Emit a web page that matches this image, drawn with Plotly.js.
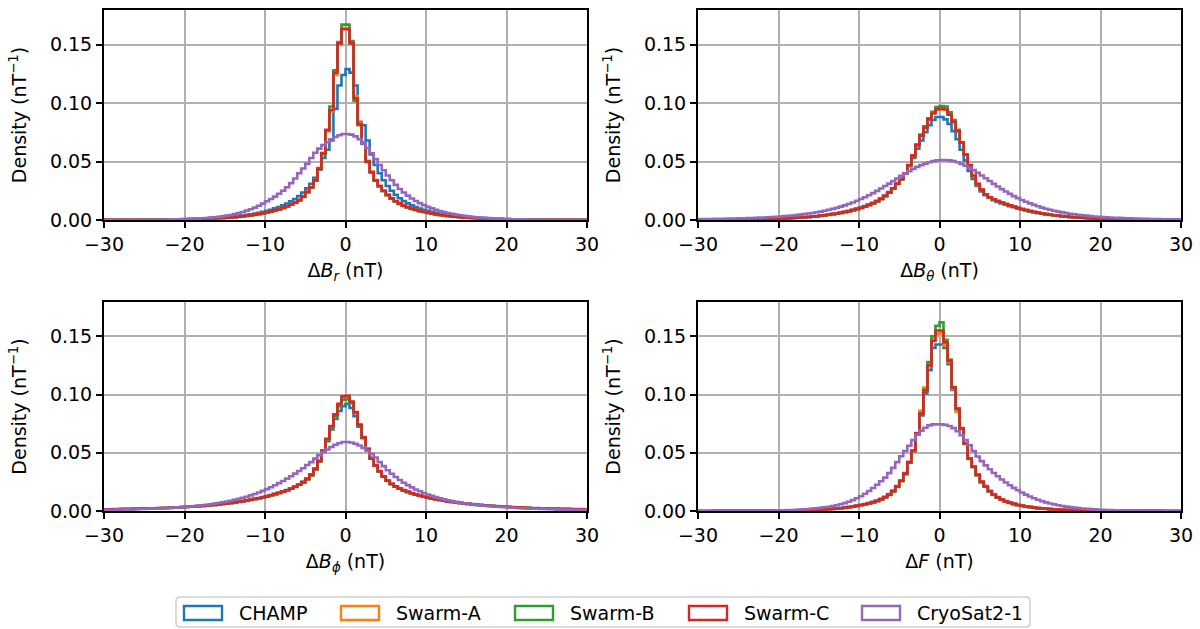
<!DOCTYPE html>
<html><head><meta charset="utf-8">
<script src="https://cdn.plot.ly/plotly-3.0.1.min.js"></script>
<style>html,body{margin:0;padding:0;background:#fff}#chart{width:1200px;height:629px}</style>
</head><body><div id="chart"></div>
<script>
const seriesNames = ['CHAMP','Swarm-A','Swarm-B','Swarm-C','CryoSat2-1'];
const seriesColors = ['#1f77b4','#ff7f0e','#2ca02c','#d62728','#9467bd'];
const binStart = -30, binWidth = 0.5, binCount = 120;

// ---- ΔBr ----
const br_champ = [
.0001,.0001,.0001,.0002,.0002,.0002,.0002,.0002,.0003,.0003,
.0003,.0003,.0004,.0004,.0005,.0005,.0006,.0006,.0007,.0008,
.0009,.0010,.0011,.0012,.0013,.0015,.0016,.0018,.0020,.0023,
.0025,.0028,.0031,.0035,.0039,.0044,.0049,.0055,.0062,.0070,
.0078,.0088,.0099,.0111,.0125,.0141,.0159,.0180,.0205,.0235,
.0270,.0310,.0360,.0430,.0530,.0600,.0680,.0950,.1150,.1240,
.1290,.1260,.1150,.0840,.0810,.0680,.0560,.0470,.0400,.0340,
.0290,.0250,.0215,.0186,.0162,.0142,.0125,.0110,.0098,.0087,
.0078,.0069,.0062,.0055,.0049,.0044,.0039,.0035,.0031,.0028,
.0025,.0022,.0020,.0018,.0016,.0014,.0013,.0011,.0010,.0009,
.0008,.0007,.0007,.0006,.0005,.0005,.0004,.0004,.0004,.0003,
.0003,.0003,.0002,.0002,.0002,.0002,.0002,.0001,.0001,.0001];
const br_swarmA = [
.0001,.0001,.0001,.0001,.0001,.0001,.0002,.0002,.0002,.0002,
.0002,.0003,.0003,.0003,.0004,.0004,.0004,.0005,.0005,.0006,
.0007,.0007,.0008,.0009,.0010,.0011,.0013,.0014,.0016,.0018,
.0020,.0022,.0025,.0028,.0032,.0036,.0041,.0046,.0052,.0059,
.0066,.0074,.0083,.0093,.0104,.0117,.0132,.0150,.0170,.0200,
.0240,.0282,.0342,.0445,.0575,.0760,.0930,.1240,.1500,.1640,
.1640,.1520,.1060,.0830,.0665,.0505,.0412,.0342,.0291,.0251,
.0215,.0185,.0160,.0140,.0123,.0109,.0097,.0087,.0078,.0070,
.0062,.0055,.0049,.0044,.0039,.0035,.0031,.0028,.0025,.0022,
.0020,.0018,.0016,.0014,.0013,.0011,.0010,.0009,.0008,.0007,
.0007,.0006,.0005,.0005,.0004,.0004,.0004,.0003,.0003,.0003,
.0002,.0002,.0002,.0002,.0002,.0001,.0001,.0001,.0001,.0001];
const br_swarmB = [
.0001,.0001,.0001,.0001,.0001,.0001,.0001,.0002,.0002,.0002,
.0002,.0002,.0003,.0003,.0003,.0004,.0004,.0005,.0005,.0006,
.0006,.0007,.0008,.0009,.0010,.0011,.0012,.0014,.0015,.0017,
.0019,.0021,.0024,.0027,.0031,.0035,.0039,.0044,.0050,.0057,
.0064,.0072,.0081,.0091,.0102,.0115,.0130,.0147,.0168,.0196,
.0236,.0276,.0336,.0436,.0565,.0765,.0970,.1280,.1520,.1670,
.1670,.1530,.1020,.0810,.0650,.0495,.0405,.0336,.0286,.0246,
.0212,.0182,.0158,.0138,.0121,.0107,.0095,.0085,.0076,.0068,
.0061,.0054,.0048,.0043,.0038,.0034,.0030,.0027,.0024,.0021,
.0019,.0017,.0015,.0014,.0012,.0011,.0010,.0009,.0008,.0007,
.0006,.0006,.0005,.0005,.0004,.0004,.0003,.0003,.0003,.0003,
.0002,.0002,.0002,.0002,.0002,.0001,.0001,.0001,.0001,.0001];
const br_swarmC = [
.0001,.0001,.0001,.0001,.0001,.0001,.0002,.0002,.0002,.0002,
.0002,.0003,.0003,.0003,.0004,.0004,.0004,.0005,.0005,.0006,
.0007,.0007,.0008,.0009,.0010,.0011,.0013,.0014,.0016,.0018,
.0020,.0022,.0025,.0028,.0032,.0036,.0041,.0046,.0052,.0059,
.0066,.0074,.0083,.0093,.0104,.0117,.0132,.0150,.0170,.0200,
.0240,.0280,.0340,.0440,.0570,.0770,.0940,.1260,.1510,.1630,
.1630,.1510,.1040,.0820,.0660,.0500,.0410,.0340,.0290,.0250,
.0215,.0185,.0160,.0140,.0123,.0109,.0097,.0087,.0078,.0070,
.0062,.0055,.0049,.0044,.0039,.0035,.0031,.0028,.0025,.0022,
.0020,.0018,.0016,.0014,.0013,.0011,.0010,.0009,.0008,.0007,
.0007,.0006,.0005,.0005,.0004,.0004,.0004,.0003,.0003,.0003,
.0002,.0002,.0002,.0002,.0002,.0001,.0001,.0001,.0001,.0001];
const br_cryosat = [
.0001,.0001,.0001,.0001,.0001,.0001,.0002,.0002,.0002,.0002,
.0002,.0002,.0003,.0003,.0004,.0004,.0005,.0005,.0006,.0007,
.0008,.0010,.0011,.0013,.0015,.0017,.0020,.0023,.0027,.0032,
.0037,.0043,.0050,.0059,.0069,.0080,.0092,.0106,.0122,.0140,
.0160,.0180,.0200,.0225,.0250,.0280,.0315,.0355,.0400,.0440,
.0480,.0530,.0575,.0610,.0640,.0665,.0690,.0710,.0725,.0735,
.0735,.0730,.0715,.0690,.0655,.0615,.0570,.0520,.0470,.0425,
.0380,.0340,.0300,.0265,.0235,.0208,.0184,.0163,.0144,.0127,
.0112,.0099,.0087,.0077,.0068,.0060,.0053,.0046,.0041,.0036,
.0031,.0027,.0024,.0021,.0018,.0016,.0014,.0012,.0011,.0009,
.0008,.0007,.0006,.0006,.0005,.0004,.0004,.0003,.0003,.0003,
.0002,.0002,.0002,.0002,.0001,.0001,.0001,.0001,.0001,.0001];

// ---- ΔBθ ----
const bt_champ = [
.0002,.0002,.0002,.0003,.0003,.0003,.0003,.0004,.0004,.0004,
.0005,.0005,.0006,.0006,.0007,.0008,.0009,.0009,.0010,.0011,
.0013,.0014,.0016,.0018,.0020,.0022,.0024,.0027,.0030,.0034,
.0038,.0042,.0047,.0052,.0058,.0064,.0071,.0079,.0088,.0097,
.0108,.0120,.0133,.0148,.0165,.0185,.0210,.0238,.0272,.0310,
.0350,.0400,.0460,.0530,.0610,.0680,.0750,.0810,.0855,.0880,
.0880,.0860,.0820,.0760,.0690,.0600,.0510,.0420,.0350,.0290,
.0245,.0212,.0188,.0170,.0155,.0142,.0130,.0119,.0109,.0099,
.0090,.0082,.0074,.0067,.0061,.0055,.0050,.0045,.0041,.0037,
.0033,.0030,.0027,.0024,.0022,.0020,.0018,.0016,.0014,.0013,
.0012,.0010,.0009,.0008,.0008,.0007,.0006,.0006,.0005,.0005,
.0004,.0004,.0003,.0003,.0003,.0003,.0002,.0002,.0002,.0002];
const bt_swarmA = [
.0002,.0002,.0002,.0002,.0002,.0003,.0003,.0003,.0004,.0004,
.0004,.0005,.0005,.0006,.0007,.0007,.0008,.0009,.0010,.0011,
.0012,.0014,.0015,.0017,.0019,.0021,.0023,.0026,.0029,.0032,
.0036,.0040,.0045,.0050,.0055,.0061,.0068,.0075,.0084,.0093,
.0103,.0115,.0128,.0143,.0160,.0180,.0205,.0235,.0270,.0310,
.0348,.0398,.0468,.0552,.0642,.0725,.0795,.0865,.0918,.0955,
.0960,.0955,.0910,.0848,.0765,.0662,.0560,.0468,.0378,.0308,
.0260,.0220,.0195,.0178,.0163,.0150,.0137,.0125,.0114,.0104,
.0094,.0085,.0077,.0069,.0062,.0056,.0050,.0045,.0040,.0036,
.0032,.0029,.0026,.0023,.0021,.0019,.0017,.0015,.0013,.0012,
.0011,.0010,.0009,.0008,.0007,.0006,.0006,.0005,.0005,.0004,
.0004,.0003,.0003,.0003,.0003,.0002,.0002,.0002,.0002,.0002];
const bt_swarmB = [
.0002,.0002,.0002,.0002,.0002,.0003,.0003,.0003,.0003,.0004,
.0004,.0005,.0005,.0006,.0006,.0007,.0008,.0009,.0010,.0011,
.0012,.0013,.0015,.0017,.0019,.0021,.0023,.0026,.0028,.0031,
.0035,.0039,.0044,.0049,.0054,.0060,.0067,.0074,.0083,.0092,
.0102,.0114,.0127,.0142,.0159,.0179,.0204,.0234,.0268,.0308,
.0345,.0395,.0465,.0550,.0645,.0730,.0800,.0870,.0925,.0965,
.0975,.0970,.0920,.0855,.0770,.0665,.0560,.0465,.0375,.0305,
.0258,.0218,.0193,.0176,.0161,.0148,.0136,.0124,.0113,.0103,
.0093,.0084,.0076,.0068,.0061,.0055,.0049,.0044,.0040,.0036,
.0032,.0029,.0026,.0023,.0021,.0019,.0017,.0015,.0013,.0012,
.0011,.0010,.0009,.0008,.0007,.0006,.0006,.0005,.0005,.0004,
.0004,.0003,.0003,.0003,.0003,.0002,.0002,.0002,.0002,.0002];
const bt_swarmC = [
.0002,.0002,.0002,.0002,.0002,.0003,.0003,.0003,.0004,.0004,
.0004,.0005,.0005,.0006,.0007,.0007,.0008,.0009,.0010,.0011,
.0012,.0014,.0015,.0017,.0019,.0021,.0023,.0026,.0029,.0032,
.0036,.0040,.0045,.0050,.0055,.0061,.0068,.0075,.0084,.0093,
.0103,.0115,.0128,.0143,.0160,.0180,.0205,.0235,.0270,.0310,
.0350,.0400,.0470,.0550,.0640,.0720,.0790,.0860,.0910,.0945,
.0950,.0945,.0900,.0840,.0760,.0660,.0560,.0470,.0380,.0310,
.0260,.0220,.0195,.0178,.0163,.0150,.0137,.0125,.0114,.0104,
.0094,.0085,.0077,.0069,.0062,.0056,.0050,.0045,.0040,.0036,
.0032,.0029,.0026,.0023,.0021,.0019,.0017,.0015,.0013,.0012,
.0011,.0010,.0009,.0008,.0007,.0006,.0006,.0005,.0005,.0004,
.0004,.0003,.0003,.0003,.0003,.0002,.0002,.0002,.0002,.0002];
const bt_cryosat = [
.0008,.0008,.0009,.0009,.0010,.0010,.0011,.0012,.0012,.0013,
.0014,.0015,.0016,.0017,.0019,.0020,.0022,.0024,.0026,.0028,
.0030,.0033,.0036,.0039,.0042,.0046,.0050,.0055,.0060,.0066,
.0072,.0079,.0087,.0095,.0104,.0114,.0125,.0137,.0150,.0164,
.0179,.0195,.0212,.0230,.0249,.0269,.0290,.0311,.0333,.0355,
.0377,.0398,.0418,.0437,.0454,.0469,.0482,.0494,.0503,.0510,
.0513,.0513,.0510,.0503,.0493,.0480,.0464,.0446,.0426,.0404,
.0381,.0357,.0333,.0309,.0286,.0264,.0243,.0223,.0204,.0187,
.0171,.0156,.0142,.0129,.0117,.0106,.0096,.0087,.0079,.0072,
.0065,.0059,.0054,.0049,.0044,.0040,.0037,.0033,.0030,.0028,
.0025,.0023,.0021,.0019,.0018,.0016,.0015,.0014,.0013,.0012,
.0011,.0010,.0009,.0009,.0008,.0007,.0007,.0006,.0006,.0005];

// ---- ΔBϕ ----
const bp_champ = [
.0015,.0015,.0016,.0016,.0017,.0018,.0018,.0019,.0020,.0021,
.0022,.0023,.0024,.0025,.0026,.0027,.0029,.0030,.0032,.0034,
.0036,.0038,.0040,.0043,.0046,.0049,.0052,.0055,.0059,.0063,
.0067,.0071,.0076,.0081,.0086,.0092,.0098,.0105,.0112,.0120,
.0128,.0137,.0147,.0157,.0168,.0180,.0194,.0210,.0228,.0250,
.0278,.0315,.0365,.0430,.0510,.0600,.0700,.0790,.0860,.0900,
.0920,.0885,.0815,.0725,.0625,.0535,.0455,.0392,.0342,.0298,
.0262,.0234,.0212,.0194,.0179,.0166,.0154,.0143,.0134,.0125,
.0117,.0110,.0103,.0097,.0091,.0085,.0080,.0075,.0071,.0067,
.0063,.0059,.0056,.0053,.0050,.0047,.0045,.0042,.0040,.0038,
.0036,.0034,.0032,.0031,.0029,.0028,.0026,.0025,.0024,.0023,
.0022,.0021,.0020,.0019,.0018,.0018,.0017,.0016,.0016,.0015];
const bp_swarmA = [
.0014,.0014,.0015,.0015,.0016,.0017,.0017,.0018,.0019,.0020,
.0021,.0022,.0023,.0024,.0025,.0026,.0028,.0029,.0031,.0033,
.0035,.0037,.0039,.0041,.0044,.0047,.0050,.0053,.0057,.0061,
.0065,.0069,.0074,.0079,.0084,.0090,.0096,.0103,.0110,.0118,
.0126,.0135,.0145,.0155,.0166,.0178,.0192,.0208,.0226,.0248,
.0273,.0308,.0358,.0428,.0518,.0616,.0725,.0822,.0910,.0970,
.0975,.0935,.0848,.0740,.0632,.0532,.0452,.0391,.0341,.0296,
.0260,.0232,.0210,.0192,.0177,.0164,.0152,.0141,.0132,.0123,
.0115,.0108,.0101,.0095,.0089,.0083,.0078,.0073,.0069,.0065,
.0061,.0057,.0054,.0051,.0048,.0045,.0043,.0040,.0038,.0036,
.0034,.0032,.0030,.0029,.0027,.0026,.0024,.0023,.0022,.0021,
.0020,.0019,.0018,.0017,.0016,.0016,.0015,.0014,.0014,.0013];
const bp_swarmB = [
.0014,.0014,.0014,.0015,.0016,.0016,.0017,.0018,.0019,.0020,
.0020,.0021,.0022,.0023,.0025,.0026,.0027,.0029,.0031,.0032,
.0034,.0036,.0038,.0041,.0043,.0046,.0049,.0052,.0056,.0060,
.0064,.0068,.0073,.0078,.0083,.0089,.0095,.0102,.0109,.0117,
.0125,.0134,.0144,.0154,.0165,.0177,.0191,.0207,.0225,.0246,
.0272,.0306,.0356,.0425,.0515,.0612,.0720,.0815,.0900,.0955,
.0960,.0925,.0845,.0740,.0635,.0535,.0455,.0392,.0342,.0297,
.0259,.0231,.0209,.0191,.0176,.0163,.0151,.0140,.0131,.0122,
.0114,.0107,.0100,.0094,.0088,.0082,.0077,.0072,.0068,.0064,
.0060,.0056,.0053,.0050,.0047,.0045,.0042,.0040,.0038,.0036,
.0034,.0032,.0030,.0028,.0027,.0025,.0024,.0023,.0022,.0021,
.0020,.0019,.0018,.0017,.0016,.0015,.0015,.0014,.0013,.0013];
const bp_swarmC = [
.0014,.0014,.0015,.0015,.0016,.0017,.0017,.0018,.0019,.0020,
.0021,.0022,.0023,.0024,.0025,.0026,.0028,.0029,.0031,.0033,
.0035,.0037,.0039,.0041,.0044,.0047,.0050,.0053,.0057,.0061,
.0065,.0069,.0074,.0079,.0084,.0090,.0096,.0103,.0110,.0118,
.0126,.0135,.0145,.0155,.0166,.0178,.0192,.0208,.0226,.0248,
.0275,.0310,.0360,.0430,.0520,.0620,.0730,.0830,.0920,.0985,
.0990,.0940,.0850,.0740,.0630,.0530,.0450,.0390,.0340,.0295,
.0260,.0232,.0210,.0192,.0177,.0164,.0152,.0141,.0132,.0123,
.0115,.0108,.0101,.0095,.0089,.0083,.0078,.0073,.0069,.0065,
.0061,.0057,.0054,.0051,.0048,.0045,.0043,.0040,.0038,.0036,
.0034,.0032,.0030,.0029,.0027,.0026,.0024,.0023,.0022,.0021,
.0020,.0019,.0018,.0017,.0016,.0016,.0015,.0014,.0014,.0013];
const bp_cryosat = [
.0010,.0011,.0011,.0012,.0013,.0013,.0014,.0015,.0016,.0017,
.0018,.0019,.0020,.0022,.0023,.0025,.0027,.0029,.0031,.0034,
.0036,.0039,.0042,.0046,.0050,.0054,.0058,.0063,.0069,.0075,
.0081,.0088,.0096,.0104,.0113,.0123,.0134,.0146,.0159,.0173,
.0188,.0204,.0221,.0239,.0258,.0278,.0299,.0321,.0344,.0367,
.0395,.0420,.0450,.0480,.0505,.0528,.0550,.0568,.0582,.0592,
.0593,.0588,.0578,.0562,.0542,.0518,.0490,.0460,.0420,.0385,
.0350,.0320,.0292,.0266,.0243,.0222,.0203,.0185,.0169,.0155,
.0142,.0130,.0119,.0109,.0100,.0092,.0085,.0078,.0072,.0066,
.0061,.0057,.0053,.0049,.0045,.0042,.0039,.0036,.0034,.0032,
.0030,.0028,.0026,.0024,.0023,.0021,.0020,.0019,.0018,.0017,
.0016,.0015,.0014,.0013,.0012,.0012,.0011,.0010,.0010,.0009];

// ---- ΔF ----
const bf_champ = [
.0000,.0000,.0000,.0001,.0001,.0001,.0001,.0001,.0001,.0001,
.0001,.0001,.0002,.0002,.0002,.0002,.0002,.0003,.0003,.0004,
.0004,.0005,.0005,.0006,.0007,.0008,.0009,.0010,.0011,.0012,
.0013,.0015,.0017,.0019,.0022,.0025,.0029,.0034,.0039,.0045,
.0052,.0060,.0068,.0078,.0090,.0104,.0122,.0145,.0175,.0215,
.0262,.0325,.0420,.0515,.0655,.0820,.1010,.1210,.1400,.1430,
.1430,.1400,.1260,.1040,.0870,.0705,.0578,.0452,.0382,.0314,
.0254,.0214,.0174,.0144,.0120,.0101,.0086,.0074,.0063,.0054,
.0047,.0041,.0035,.0030,.0026,.0023,.0020,.0017,.0015,.0013,
.0011,.0010,.0009,.0008,.0007,.0006,.0005,.0005,.0004,.0004,
.0003,.0003,.0003,.0002,.0002,.0002,.0002,.0001,.0001,.0001,
.0001,.0001,.0001,.0001,.0001,.0001,.0000,.0000,.0000,.0000];
const bf_swarmA = [
.0000,.0000,.0000,.0000,.0001,.0001,.0001,.0001,.0001,.0001,
.0001,.0001,.0001,.0002,.0002,.0002,.0002,.0003,.0003,.0003,
.0004,.0004,.0005,.0005,.0006,.0007,.0008,.0009,.0010,.0011,
.0012,.0014,.0016,.0018,.0021,.0024,.0028,.0033,.0038,.0044,
.0051,.0058,.0066,.0075,.0086,.0100,.0118,.0140,.0170,.0210,
.0258,.0318,.0418,.0518,.0670,.0860,.1060,.1260,.1470,.1520,
.1530,.1420,.1280,.1050,.0850,.0705,.0575,.0448,.0378,.0310,
.0250,.0210,.0170,.0140,.0117,.0098,.0083,.0071,.0061,.0052,
.0045,.0039,.0034,.0029,.0025,.0022,.0019,.0016,.0014,.0012,
.0011,.0009,.0008,.0007,.0006,.0005,.0005,.0004,.0004,.0003,
.0003,.0003,.0002,.0002,.0002,.0002,.0001,.0001,.0001,.0001,
.0001,.0001,.0001,.0001,.0001,.0000,.0000,.0000,.0000,.0000];
const bf_swarmB = [
.0000,.0000,.0000,.0000,.0000,.0001,.0001,.0001,.0001,.0001,
.0001,.0001,.0001,.0001,.0002,.0002,.0002,.0002,.0003,.0003,
.0004,.0004,.0004,.0005,.0006,.0006,.0007,.0008,.0009,.0010,
.0012,.0013,.0015,.0017,.0020,.0023,.0027,.0032,.0037,.0043,
.0050,.0057,.0065,.0074,.0085,.0099,.0116,.0138,.0167,.0206,
.0255,.0315,.0415,.0515,.0665,.0835,.1040,.1280,.1500,.1590,
.1620,.1470,.1300,.1065,.0880,.0712,.0582,.0452,.0378,.0308,
.0248,.0208,.0168,.0138,.0115,.0096,.0081,.0069,.0059,.0050,
.0044,.0038,.0033,.0028,.0024,.0021,.0018,.0016,.0014,.0012,
.0010,.0009,.0008,.0007,.0006,.0005,.0004,.0004,.0003,.0003,
.0003,.0002,.0002,.0002,.0002,.0001,.0001,.0001,.0001,.0001,
.0001,.0001,.0001,.0001,.0000,.0000,.0000,.0000,.0000,.0000];
const bf_swarmC = [
.0000,.0000,.0000,.0000,.0001,.0001,.0001,.0001,.0001,.0001,
.0001,.0001,.0001,.0002,.0002,.0002,.0002,.0003,.0003,.0003,
.0004,.0004,.0005,.0005,.0006,.0007,.0008,.0009,.0010,.0011,
.0012,.0014,.0016,.0018,.0021,.0024,.0028,.0033,.0038,.0044,
.0051,.0058,.0066,.0075,.0086,.0100,.0118,.0140,.0170,.0210,
.0260,.0320,.0420,.0520,.0667,.0838,.1035,.1250,.1460,.1550,
.1550,.1448,.1290,.1060,.0880,.0710,.0580,.0450,.0380,.0310,
.0250,.0210,.0170,.0140,.0117,.0098,.0083,.0071,.0061,.0052,
.0045,.0039,.0034,.0029,.0025,.0022,.0019,.0016,.0014,.0012,
.0011,.0009,.0008,.0007,.0006,.0005,.0005,.0004,.0004,.0003,
.0003,.0003,.0002,.0002,.0002,.0002,.0001,.0001,.0001,.0001,
.0001,.0001,.0001,.0001,.0001,.0000,.0000,.0000,.0000,.0000];
const bf_cryosat = [
.0000,.0000,.0000,.0000,.0001,.0001,.0001,.0001,.0001,.0001,
.0001,.0002,.0002,.0002,.0002,.0003,.0003,.0004,.0004,.0005,
.0006,.0007,.0008,.0009,.0011,.0013,.0015,.0017,.0020,.0023,
.0027,.0032,.0037,.0043,.0050,.0058,.0068,.0080,.0093,.0109,
.0127,.0148,.0172,.0198,.0226,.0255,.0287,.0325,.0370,.0420,
.0470,.0515,.0560,.0610,.0655,.0690,.0715,.0735,.0744,.0744,
.0744,.0740,.0730,.0712,.0685,.0650,.0610,.0565,.0515,.0468,
.0428,.0392,.0358,.0327,.0298,.0270,.0245,.0221,.0199,.0178,
.0159,.0141,.0125,.0110,.0097,.0085,.0074,.0065,.0057,.0050,
.0043,.0038,.0033,.0029,.0025,.0022,.0019,.0016,.0014,.0012,
.0011,.0009,.0008,.0007,.0006,.0005,.0005,.0004,.0004,.0003,
.0003,.0002,.0002,.0002,.0002,.0001,.0001,.0001,.0001,.0001];

const panels = [
  {data:[br_champ,br_swarmA,br_swarmB,br_swarmC,br_cryosat], xa:'x',  ya:'y',  title:'Δ<i>B</i><sub><i>r</i></sub> (nT)'},
  {data:[bt_champ,bt_swarmA,bt_swarmB,bt_swarmC,bt_cryosat], xa:'x2', ya:'y2', title:'Δ<i>B</i><sub><i>θ</i></sub> (nT)'},
  {data:[bp_champ,bp_swarmA,bp_swarmB,bp_swarmC,bp_cryosat], xa:'x3', ya:'y3', title:'Δ<i>B</i><sub><i>ϕ</i></sub> (nT)'},
  {data:[bf_champ,bf_swarmA,bf_swarmB,bf_swarmC,bf_cryosat], xa:'x4', ya:'y4', title:'Δ<i>F</i> (nT)'}
];

const edges = [];
for (let i = 0; i <= binCount; i++) edges.push(binStart + i * binWidth);

const traces = [];
panels.forEach(p => {
  p.data.forEach((vals, s) => {
    const xs = [edges[0]], ys = [0];
    vals.forEach((v, i) => { xs.push(edges[i]); ys.push(v); });
    xs.push(edges[binCount]); ys.push(vals[vals.length - 1]);
    xs.push(edges[binCount]); ys.push(0);
    traces.push({type:'scatter', mode:'lines', x:xs, y:ys, xaxis:p.xa, yaxis:p.ya,
      name:seriesNames[s], showlegend:false, hoverinfo:'skip',
      line:{shape:'hv', color:seriesColors[s], width:2.6}});
  });
});

const W = 1200, H = 629;
const px = v => v / W, py = v => 1 - v / H;
const FONT = 'DejaVu Sans';
const tickFont = {family:FONT, size:19, color:'#000'};

function xAxis(dom, anchor, title) {
  return {domain:dom, anchor:anchor, range:[-30,30], tickvals:[-30,-20,-10,0,10,20,30],
    showline:true, linecolor:'#000', linewidth:2, mirror:true, ticks:'outside', ticklen:6,
    tickwidth:2, tickcolor:'#000', showgrid:true, gridcolor:'#b0b0b0', gridwidth:2,
    zeroline:false, automargin:false, tickfont:tickFont,
    title:{text:title, font:tickFont, standoff:10}};
}
function yAxis(dom, anchor) {
  return {domain:dom, anchor:anchor, range:[0,0.1795], tickvals:[0,0.05,0.10,0.15], tickformat:'.2f',
    showline:true, linecolor:'#000', linewidth:2, mirror:true, ticks:'outside', ticklen:6,
    tickwidth:2, tickcolor:'#000', showgrid:true, gridcolor:'#b0b0b0', gridwidth:2,
    zeroline:false, automargin:false, tickfont:tickFont,
    title:{text:'Density (nT<sup>−1</sup>)', font:tickFont, standoff:18}};
}
const xL = [px(104), px(587)], xR = [px(698), px(1181)];
const yT = [py(220), py(10)], yB = [py(511), py(302)];

const layout = {
  width:W, height:H, margin:{l:0,r:0,t:0,b:0}, paper_bgcolor:'#fff', plot_bgcolor:'#fff',
  showlegend:false, font:{family:FONT, color:'#000'},
  xaxis: xAxis(xL,'y', panels[0].title), yaxis: yAxis(yT,'x'),
  xaxis2:xAxis(xR,'y2',panels[1].title), yaxis2:yAxis(yT,'x2'),
  xaxis3:xAxis(xL,'y3',panels[2].title), yaxis3:yAxis(yB,'x3'),
  xaxis4:xAxis(xR,'y4',panels[3].title), yaxis4:yAxis(yB,'x4'),
  shapes:[], annotations:[]
};

// legend (drawn in paper coordinates)
const lg = {x0:176, x1:1030, y0:597, y1:627, r:4};
const rx = lg.r / W, ry = lg.r / H;
layout.shapes.push({type:'path', xref:'paper', yref:'paper', layer:'above',
  path:`M ${px(lg.x0)+rx},${py(lg.y0)} L ${px(lg.x1)-rx},${py(lg.y0)} Q ${px(lg.x1)},${py(lg.y0)} ${px(lg.x1)},${py(lg.y0)-ry} ` +
       `L ${px(lg.x1)},${py(lg.y1)+ry} Q ${px(lg.x1)},${py(lg.y1)} ${px(lg.x1)-rx},${py(lg.y1)} ` +
       `L ${px(lg.x0)+rx},${py(lg.y1)} Q ${px(lg.x0)},${py(lg.y1)} ${px(lg.x0)},${py(lg.y1)+ry} ` +
       `L ${px(lg.x0)},${py(lg.y0)-ry} Q ${px(lg.x0)},${py(lg.y0)} ${px(lg.x0)+rx},${py(lg.y0)} Z`,
  line:{color:'#cfcfcf', width:1.5}, fillcolor:'rgba(255,255,255,0.8)'});
const itemX = [184, 341, 515, 689, 862], patchW = 38, patchTop = 606, patchBot = 620, textGap = 15;
seriesNames.forEach((n, i) => {
  layout.shapes.push({type:'rect', xref:'paper', yref:'paper', layer:'above',
    x0:px(itemX[i]), x1:px(itemX[i]+patchW), y0:py(patchBot), y1:py(patchTop),
    line:{color:seriesColors[i], width:2.4}, fillcolor:'rgba(0,0,0,0)'});
  layout.annotations.push({xref:'paper', yref:'paper', x:px(itemX[i]+patchW+textGap), y:py(613),
    xanchor:'left', yanchor:'middle', showarrow:false, text:n, font:tickFont});
});

Plotly.newPlot('chart', traces, layout, {staticPlot:true, displayModeBar:false});
</script></body></html>
